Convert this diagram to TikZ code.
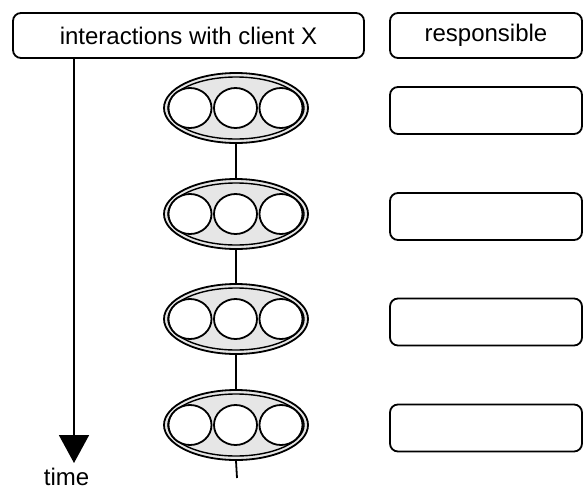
\documentclass[tikz,border=0pt]{standalone}
\usepackage{fontspec}
\setmainfont{Liberation Sans}
\usetikzlibrary{shapes.geometric,arrows.meta}
\definecolor{lightfill}{HTML}{E6E6E6}
\begin{document}
\begin{tikzpicture}[x=1pt,y=-1pt,
  every node/.style={font=\fontsize{24}{28}\selectfont},
  headbox/.style={draw,line width=1.8pt,rounded corners=8pt,minimum height=45pt,inner sep=0pt},
  respbox/.style={draw,line width=1.8pt,rounded corners=8pt,minimum width=192pt,minimum height=47pt,inner sep=0pt},
  outerell/.style={ellipse,draw,line width=1.8pt,fill=lightfill,minimum width=144pt,minimum height=70pt,inner sep=0pt},
  innerell/.style={ellipse,draw,line width=1.4pt,minimum width=136pt,minimum height=62pt,inner sep=0pt},
  dot/.style={ellipse,draw,line width=1.8pt,fill=white,minimum width=43pt,minimum height=40pt,inner sep=0pt},
  link/.style={line width=1.8pt}
]
\useasboundingbox (0,0) rectangle (587,491);

% header boxes
\node[headbox,minimum width=351pt] (b1) at (188.5,35.5) {interactions with client X};
\node[headbox,minimum width=192pt] (b2) at (486,35.5) {responsible};

% time arrow
\coordinate (tend) at (74,463);
\draw[link,-{Triangle[width=30pt,length=28pt]}] (tend |- b1.south) -- (tend);
\node[anchor=base,inner sep=0pt] (time) at (66.5,485) {time};

% connector line through ellipses
\coordinate (lend) at (237,478);

% ellipses
\foreach \i/\y in {1/108,2/214,3/319,4/425}{
  \node[outerell] (e\i) at (236,\y) {};
  \node[innerell] (ie\i) at (236,\y) {};
  \node[dot] (c\i a) at (190,\y) {};
  \node[dot] (c\i b) at (235.5,\y) {};
  \node[dot] (c\i c) at (281,\y) {};
}
\draw[link] (e1.south) -- (e2.north);
\draw[link] (e2.south) -- (e3.north);
\draw[link] (e3.south) -- (e4.north);
\draw[link] (e4.south) -- (lend);

% responsible boxes
\node[respbox] (r1) at (486,110.5) {};
\node[respbox] (r2) at (486,216.5) {};
\node[respbox] (r3) at (486,322) {};
\node[respbox] (r4) at (486,428) {};
\end{tikzpicture}
\end{document}
